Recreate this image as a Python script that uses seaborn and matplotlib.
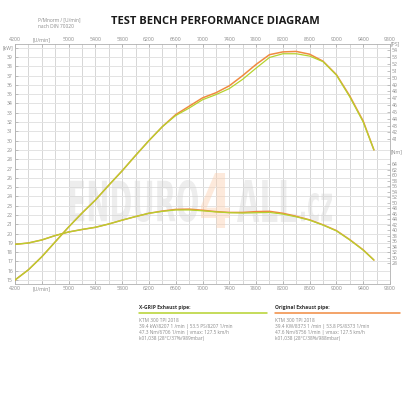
import matplotlib
matplotlib.use("Agg")
import matplotlib.pyplot as plt
import numpy as np
import seaborn as sns
from matplotlib.font_manager import FontProperties
from matplotlib.patches import PathPatch
from matplotlib.textpath import TextPath
from matplotlib.transforms import Affine2D

sns.set_theme(style="white")
plt.rcParams["font.family"] = ["Open Sans", "DejaVu Sans"]

# ── data ─────────────────────────────────────────────────────────────

rpm = [4200, 4400, 4600, 4800, 5000, 5200, 5400, 5600, 5800, 6000, 6200, 6400, 6600, 6800,
       7000, 7200, 7400, 7600, 7800, 8000, 8200, 8400, 8600, 8800, 9000, 9200, 9400, 9560]

kw_xgrip = [15.0, 16.1, 17.5, 19.1, 20.7, 22.2, 23.6, 25.2, 26.75, 28.4, 30.0, 31.5, 32.7, 33.5,
            34.4, 34.95, 35.6, 36.6, 37.8, 38.95, 39.35, 39.35, 39.1, 38.5, 37.05, 34.7, 32.0, 29.0]
kw_orig = [15.0, 16.1, 17.5, 19.1, 20.7, 22.2, 23.6, 25.2, 26.75, 28.4, 30.0, 31.5, 32.8, 33.7,
           34.6, 35.15, 35.9, 37.0, 38.2, 39.25, 39.55, 39.6, 39.3, 38.55, 37.1, 34.8, 32.1, 29.0]

nm_xgrip = [34.8, 35.3, 36.4, 38.0, 39.3, 40.2, 41.0, 42.2, 43.6, 44.9, 46.1, 46.8, 47.3, 47.3,
            47.0, 46.6, 46.3, 46.2, 46.3, 46.4, 45.8, 44.8, 43.6, 41.8, 39.7, 36.4, 32.7, 29.1]
nm_orig = [34.8, 35.3, 36.4, 38.0, 39.3, 40.2, 41.0, 42.2, 43.6, 44.9, 46.1, 46.9, 47.5, 47.6,
           47.2, 46.7, 46.4, 46.4, 46.7, 46.8, 46.1, 45.0, 43.7, 41.9, 39.8, 36.5, 32.8, 29.1]

rpm_ticks = list(range(4200, 9801, 400))
rpm_labels = ["[U/min]" if r == 4600 else str(r) for r in rpm_ticks]
kw_ticks = list(range(15, 41))
kw_labels = [str(k) for k in kw_ticks[:-1]] + ["[kW]"]
ps_ticks = list(range(41, 55))
nm_ticks = list(range(28, 65, 2))

xgrip_info = ["KTM 300 TPI 2018",
              "39.4 kW/8207 1 /min | 53.5 PS/8207 1/min",
              "47.3 Nm/6706 1/min | vmax: 127.5 km/h",
              "k01,038 (28°C/37%/989mbar)"]
orig_info = ["KTM 300 TPI 2018",
             "39.4 KW/8373 1 /min | 53.8 PS/8373 1/min",
             "47.6 Nm/6756 1/min | vmax: 127.5 km/h",
             "k01,038 (28°C/38%/988mbar)"]

GREEN = "#b5d22e"
ORANGE = "#f08a40"
LABEL = "#8a8a8a"
W, H = 407, 395

# ── figure ───────────────────────────────────────────────────────────

fig = plt.figure(figsize=(W / 100, H / 100), dpi=100)
fig.patch.set_facecolor("white")
ax = fig.add_axes([15 / W, 1 - 284 / H, 375 / W, 240 / H])

KW_LIM = (14.57, 40.4)
ax.set_xlim(4200, 9800)
ax.set_ylim(*KW_LIM)

# grid
for r in range(4200, 9801, 200):
    ax.axvline(r, color="#d6d6d6", lw=0.7, zorder=0)
for k in range(15, 41):
    ax.axhline(k, color="#e3e3e3", lw=0.7, zorder=0)

ax.set_xticks(rpm_ticks)
ax.set_xticklabels(rpm_labels)
ax.set_xticks(range(4200, 9801, 200), minor=True)
ax.set_yticks(kw_ticks)
ax.set_yticklabels(kw_labels)
ax.tick_params(axis="both", which="both", direction="in", length=2, width=0.5,
               color="#aaaaaa", labelcolor=LABEL, labelsize=3.7, pad=1.5)
ax.tick_params(axis="x", top=True, labeltop=True, bottom=True)
ax.tick_params(axis="y", left=True)
for s in ax.spines.values():
    s.set_color("#b0b0b0")
    s.set_linewidth(0.6)


# watermark: stretch a text path into a pixel box (left, top, right, bottom)
wm_font = FontProperties(family="DejaVu Sans", weight="bold")


def stamp(txt, box, color, alpha):
    path = TextPath((0, 0), txt, size=1, prop=wm_font)
    ext = path.get_extents()
    x0, y0, x1, y1 = box
    tr = (Affine2D().translate(-ext.x0, -ext.y0)
          .scale((x1 - x0) / ext.width, (y1 - y0) / ext.height)
          .translate(x0, H - y1).scale(1 / W, 1 / H))
    patch = PathPatch(path, transform=tr + fig.transFigure, facecolor=color,
                      edgecolor="none", alpha=alpha, zorder=1.5)
    ax.add_patch(patch)


stamp("ENDURO", (70, 180, 198, 222), "#d2d2d2", 0.4)
stamp("4", (201, 173, 230, 228), "#fbd0b0", 0.45)
stamp("ALL", (237, 180, 296, 222), "#d2d2d2", 0.4)
stamp(".cz", (301, 193, 332, 222), "#d2d2d2", 0.4)

# power curves
sns.lineplot(x=rpm, y=kw_orig, ax=ax, color=ORANGE, lw=1.1, zorder=3)
sns.lineplot(x=rpm, y=kw_xgrip, ax=ax, color=GREEN, lw=0.9, zorder=4)
ax.set_xlim(4200, 9800)
ax.set_ylim(*KW_LIM)

# PS scale on the right
ax_ps = ax.twinx()
ax_ps.set_ylim(KW_LIM[0] * 1.36, KW_LIM[1] * 1.36)
ax_ps.set_yticks(ps_ticks)
ax_ps.tick_params(axis="y", direction="in", length=2, width=0.5, color="#aaaaaa",
                  labelcolor=LABEL, labelsize=3.7, pad=1.5)
for s in ax_ps.spines.values():
    s.set_visible(False)

# torque scale on the right, lower part
ax_nm = ax.twinx()
ax_nm.set_ylim(20.4, 107.6)
ax_nm.set_yticks(nm_ticks)
ax_nm.tick_params(axis="y", direction="in", length=2, width=0.5, color="#aaaaaa",
                  labelcolor=LABEL, labelsize=3.7, pad=1.5)
for s in ax_nm.spines.values():
    s.set_visible(False)
ax_nm.grid(False)
ax_ps.grid(False)

sns.lineplot(x=rpm, y=nm_orig, ax=ax_nm, color=ORANGE, lw=1.1, zorder=3)
sns.lineplot(x=rpm, y=nm_xgrip, ax=ax_nm, color=GREEN, lw=0.9, zorder=4)
ax_nm.set_ylim(20.4, 107.6)
ax_nm.set_xlim(4200, 9800)

fig.text(391 / W, 1 - 44 / H, "[PS]", fontsize=3.7, color=LABEL, ha="left", va="center")
fig.text(391 / W, 1 - 152 / H, "[Nm]", fontsize=3.7, color=LABEL, ha="left", va="center")

# header
fig.text(215 / W, 1 - 22 / H, "TEST BENCH PERFORMANCE DIAGRAM", fontsize=8,
         fontweight="bold", color="#1a1a1a", ha="center", va="center")
fig.text(38 / W, 1 - 20 / H, "P/Mnorm / [U/min]", fontsize=3.5, color=LABEL, va="center")
fig.text(38 / W, 1 - 26.5 / H, "nach DIN 70020", fontsize=3.5, color=LABEL, va="center")

# legend blocks under the chart
for x0, x1, title, color, info in [(139, 267, "X-GRIP Exhaust pipe:", GREEN, xgrip_info),
                                   (275, 400, "Original Exhaust pipe:", ORANGE, orig_info)]:
    fig.text(x0 / W, 1 - 307 / H, title, fontsize=3.6, fontweight="bold",
             color="#333333", va="center")
    fig.add_artist(plt.Line2D([x0 / W, x1 / W], [1 - 312.5 / H] * 2, color=color, lw=1.1))
    for i, line in enumerate(info):
        fig.text(x0 / W, 1 - (320 + 6.3 * i) / H, line, fontsize=3.4, color=LABEL, va="center")

fig.savefig("out.png", dpi=100)
